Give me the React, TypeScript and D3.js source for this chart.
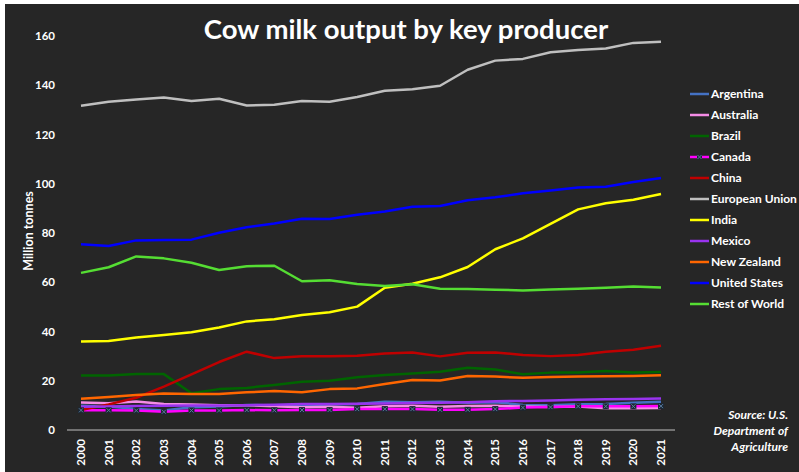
import React from "react";
import * as d3 from "d3";

const years = d3.range(2000, 2022);
const yTicks = [0, 20, 40, 60, 80, 100, 120, 140, 160];

const argentina = [9.8, 9.5, 8.5, 7.9, 9.2, 9.5, 10.2, 10.0, 10.0, 10.4, 10.6, 11.5, 11.3, 11.5, 11.1, 11.3, 10.2, 10.1, 10.5, 10.6, 11.1, 11.5];
const australia = [11.2, 10.9, 11.6, 10.6, 10.4, 10.1, 10.1, 9.6, 9.2, 9.4, 9.0, 9.6, 9.8, 9.4, 9.7, 9.8, 9.5, 9.3, 9.5, 8.8, 8.8, 8.9];
const brazil = [22.1, 22.1, 22.7, 22.7, 14.9, 16.6, 17.1, 18.3, 19.6, 20.0, 21.4, 22.3, 22.9, 23.7, 25.3, 24.6, 22.6, 23.3, 23.4, 24.0, 23.4, 23.6];
const canada = [8.0, 8.0, 7.9, 7.4, 7.9, 7.9, 8.1, 8.0, 8.1, 8.1, 8.5, 8.5, 8.5, 8.2, 8.2, 8.5, 9.1, 9.3, 9.6, 9.6, 9.6, 9.7];
const china = [8.1, 10.4, 13.1, 17.6, 22.6, 27.6, 31.8, 29.2, 29.9, 29.9, 30.2, 31.1, 31.5, 29.9, 31.4, 31.5, 30.5, 30.0, 30.5, 31.8, 32.6, 34.2];
const eu = [131.7, 133.3, 134.2, 135.0, 133.6, 134.5, 131.8, 132.1, 133.6, 133.3, 135.2, 137.8, 138.4, 139.8, 146.3, 150.0, 150.7, 153.4, 154.3, 154.9, 157.2, 157.7];
const india = [35.9, 36.1, 37.6, 38.6, 39.7, 41.6, 44.1, 45.0, 46.7, 47.8, 50.1, 57.8, 59.4, 62.0, 66.2, 73.4, 77.8, 83.7, 89.6, 92.1, 93.5, 95.8];
const mexico = [9.4, 9.5, 9.7, 9.8, 9.9, 9.9, 10.1, 10.3, 10.6, 10.6, 10.7, 10.8, 11.0, 11.1, 11.3, 11.7, 11.8, 12.0, 12.3, 12.5, 12.6, 12.8];
const newZealand = [12.7, 13.4, 14.2, 14.8, 14.6, 14.6, 15.3, 15.8, 15.3, 16.6, 16.9, 18.7, 20.3, 20.1, 21.9, 21.7, 21.2, 21.5, 21.7, 21.8, 21.9, 22.2];
const unitedStates = [75.4, 74.7, 77.0, 77.2, 77.3, 80.1, 82.3, 83.9, 85.8, 85.7, 87.4, 88.7, 90.7, 91.0, 93.3, 94.5, 96.1, 97.3, 98.5, 98.8, 100.7, 102.3];
const restOfWorld = [63.8, 66.1, 70.5, 69.7, 67.9, 65.0, 66.5, 66.7, 60.4, 60.8, 59.3, 58.5, 59.2, 57.4, 57.3, 57.0, 56.7, 57.1, 57.4, 57.8, 58.3, 57.9];

const seriesNames = ["Argentina", "Australia", "Brazil", "Canada", "China", "European Union", "India", "Mexico", "New Zealand", "United States", "Rest of World"];
const seriesValues = [argentina, australia, brazil, canada, china, eu, india, mexico, newZealand, unitedStates, restOfWorld];
const seriesColors = ["#4472C4", "#F58CE6", "#006400", "#FF00FF", "#C00000", "#BFBFBF", "#FFFF00", "#9933EE", "#FF6600", "#0000FF", "#55DD33"];

export default function App() {
  const W = 799, H = 472;
  const x = d3.scaleLinear().domain([2000, 2021]).range([81, 661]);
  const y = d3.scaleLinear().domain([0, 160]).range([430, 36]);
  const line = d3.line<number>().x((_, i) => x(years[i])).y((d) => y(d));
  const font = "Lato, 'Open Sans', sans-serif";

  return (
    <svg width={W} height={H} style={{ position: "absolute", left: 0, top: 0, display: "block" }} fontFamily={font}>
      <rect x={0} y={0} width={W} height={H} fill="#ffffff" />
      <rect x={5} y={4} width={W - 5} height={H - 4} fill="#262626" />
      <text x={406} y={39} textAnchor="middle" fill="#fff" fontSize={27.5} fontWeight="bold">Cow milk output by key producer</text>

      {yTicks.map((t) => (
        <text key={t} x={55} y={y(t)} dy="0.35em" textAnchor="end" fill="#fff" fontSize={11.5} fontWeight="bold">{t}</text>
      ))}
      <text transform={`translate(29,${231}) rotate(-90)`} dy="0.35em" textAnchor="middle" fill="#fff" fontSize={12.5} fontWeight="bold">Million tonnes</text>

      <line x1={67} x2={675} y1={y(0)} y2={y(0)} stroke="#bfbfbf" strokeWidth={1} />
      {years.map((yr) => (
        <text key={yr} transform={`translate(${x(yr)},${439}) rotate(-90)`} dy="0.35em" textAnchor="end" fill="#fff" fontSize={11.5} fontWeight="bold">{yr}</text>
      ))}

      {seriesValues.map((vals, i) => (
        <path key={seriesNames[i]} d={line(vals) || ""} fill="none" stroke={seriesColors[i]} strokeWidth={2.5} strokeLinejoin="round" />
      ))}
      {canada.map((v, i) => (
        <g key={i} transform={`translate(${x(years[i])},${y(v)})`}>
          <rect x={-3} y={-3} width={6} height={6} fill="#1c2733" />
          <path d="M-2,-2L2,2M-2,2L2,-2" stroke="#5a7a9a" strokeWidth={1} />
        </g>
      ))}

      {seriesNames.map((name, i) => {
        const ly = 94 + i * 21;
        return (
          <g key={name}>
            <line x1={690} x2={709} y1={ly} y2={ly} stroke={seriesColors[i]} strokeWidth={2.5} />
            {name === "Canada" && (
              <g transform={`translate(699.5,${ly})`}>
                <rect x={-2.5} y={-2.5} width={5} height={5} fill="#1c2733" />
                <path d="M-2,-2L2,2M-2,2L2,-2" stroke="#5a7a9a" strokeWidth={1} />
              </g>
            )}
            <text x={711} y={ly} dy="0.35em" fill="#fff" fontSize={12} fontWeight="bold">{name}</text>
          </g>
        );
      })}

      <g fill="#fff" fontSize={12} fontWeight="bold" fontStyle="italic" textAnchor="end">
        <text x={788} y={415} dy="0.35em">Source: U.S.</text>
        <text x={788} y={431} dy="0.35em">Department of</text>
        <text x={788} y={447} dy="0.35em">Agriculture</text>
      </g>
    </svg>
  );
}
